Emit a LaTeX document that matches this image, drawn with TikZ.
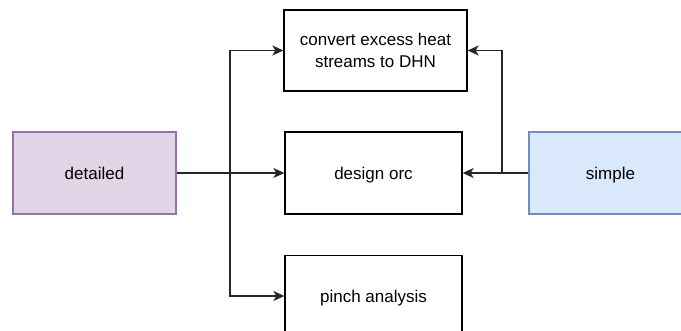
\documentclass[tikz,border=0pt]{standalone}
\usepackage{fontspec}
\setmainfont{Liberation Sans}
\usetikzlibrary{arrows.meta}
\definecolor{purplefill}{HTML}{E1D5E7}
\definecolor{purpleline}{HTML}{9673A6}
\definecolor{bluefill}{HTML}{DAE8FC}
\definecolor{blueline}{HTML}{6C8EBF}
\tikzset{
  box/.style={draw=black, line width=1.3pt, fill=white, minimum height=81pt, align=center, inner sep=0pt, text depth=0pt, font=\fontsize{17}{22}\selectfont},
  conn/.style={line width=1.3pt, draw=black!85, -{Stealth[length=11pt,width=10pt,inset=3pt]}},
}
\begin{document}
\begin{tikzpicture}[x=1pt,y=-1pt]
\useasboundingbox (0,0) rectangle (681,330);
\node[box, minimum width=183pt] (dhn) at (375.5,50.5) {convert excess heat\\streams to DHN};
\node[box, minimum width=177pt, minimum height=82pt] (orc) at (373.5,173) {design orc};
\node[box, minimum width=177pt] (pinch) at (373.5,296) {pinch analysis};
\node[box, minimum width=163pt, minimum height=82pt, draw=purpleline, fill=purplefill] (det) at (94.5,173) {detailed};
\node[box, minimum width=163pt, minimum height=82pt, draw=blueline, fill=bluefill] (sim) at (610.5,173) {simple};
\coordinate (jl) at (230,173);
\coordinate (jr) at (502,173);
\draw[conn] (det.east) -- (orc.west);
\draw[conn] (jl) |- (dhn.west);
\draw[conn] (jl) |- (pinch.west);
\draw[conn] (sim.west) -- (orc.east);
\draw[conn] (jr) |- (dhn.east);
\end{tikzpicture}
\end{document}
